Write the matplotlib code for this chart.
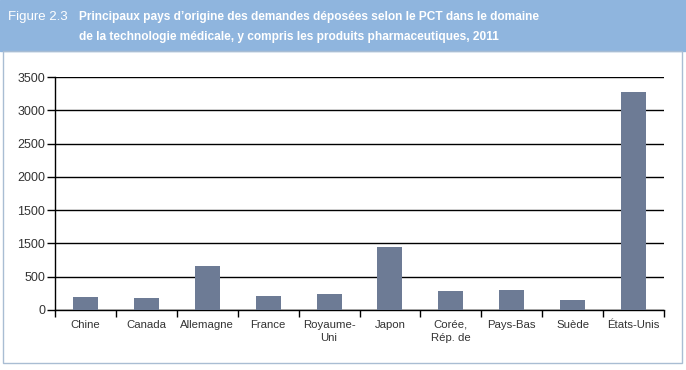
import matplotlib
matplotlib.use("Agg")
import matplotlib.pyplot as plt
from matplotlib.patches import Rectangle

# donnees
pays = ["Chine", "Canada", "Allemagne", "France", "Royaume-\nUni", "Japon",
        "Corée,\nRép. de", "Pays-Bas", "Suède", "États-Unis"]
demandes = [200, 180, 655, 215, 245, 950, 290, 295, 155, 3280]
yticks = [0, 500, 1000, 1500, 2000, 2500, 3000, 3500]
ylabels = ["0", "500", "1500", "1500", "2000", "2500", "3000", "3500"]  # tel quel dans l'original

fig = plt.figure(figsize=(6.86, 3.70), dpi=100)
W, H = 686, 370

# bandeau du titre + cadre
fig.patches.append(Rectangle((0, 1 - 51 / H), 1, 51 / H, transform=fig.transFigure,
                             color="#8fb5de", zorder=0))
fig.patches.append(Rectangle((3 / W, 1 - 363 / H), 679 / W, (363 - 51) / H,
                             transform=fig.transFigure, fill=False,
                             edgecolor="#a9bdd3", lw=1, zorder=0))
fig.text(8 / W, 1 - 17 / H, "Figure 2.3", color="white", fontsize=9.5,
         family="Liberation Sans", va="center")
fig.text(79 / W, 1 - 17 / H,
         "Principaux pays d’origine des demandes déposées selon le PCT dans le domaine",
         color="white", fontsize=8.6, fontweight="bold",
         family="Liberation Sans", va="center")
fig.text(79 / W, 1 - 37 / H,
         "de la technologie médicale, y compris les produits pharmaceutiques, 2011",
         color="white", fontsize=8.6, fontweight="bold",
         family="Liberation Sans", va="center")

ax = fig.add_axes([55 / W, 60 / H, (664 - 55) / W, (310 - 77) / H])
x = range(len(pays))
ax.bar(x, demandes, width=0.41, color="#6d7b95", zorder=3)
ax.set_xlim(-0.5, len(pays) - 0.5)
ax.set_ylim(0, 3500)

ax.set_yticks(yticks)
ax.set_yticklabels(ylabels)
ax.grid(axis="y", color="black", lw=1, zorder=1)

ax.set_xticks(list(x))
ax.set_xticklabels(pays, linespacing=1.45)
ax.set_xticks([i - 0.5 for i in range(len(pays) + 1)], minor=True)
ax.tick_params(axis="x", which="major", length=0, pad=7, labelsize=8.2)
ax.tick_params(axis="x", which="minor", length=5, width=1, direction="out")
ax.tick_params(axis="y", length=6, width=1, pad=1, labelsize=9)
ax.tick_params(colors="#333333")
ax.tick_params(axis="both", which="both", color="black")
for lab in ax.get_xticklabels() + ax.get_yticklabels():
    lab.set_family(["Liberation Sans", "DejaVu Sans"])

for s in ["top", "right"]:
    ax.spines[s].set_visible(False)
ax.spines["left"].set_linewidth(1)
ax.spines["bottom"].set_linewidth(1)

fig.savefig("out.png", dpi=100)
